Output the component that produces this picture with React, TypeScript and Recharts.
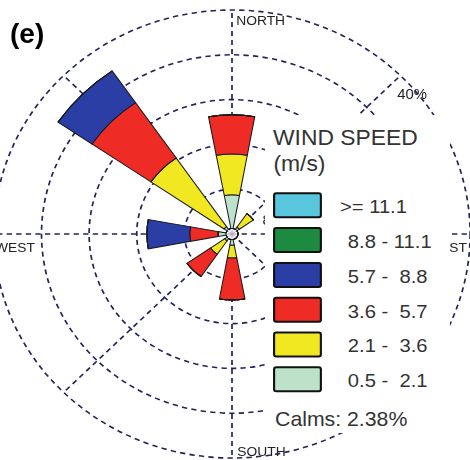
import { RadialBarChart, RadialBar, PolarGrid, PolarAngleAxis, PolarRadiusAxis, Legend } from 'recharts';

// wind directions, clockwise from north
const directions = ['N', 'NNE', 'NE', 'ENE', 'E', 'ESE', 'SE', 'SSE', 'S', 'SSW', 'SW', 'WSW', 'W', 'WNW', 'NW', 'NNW'];

// frequency (%) per speed class
const calmBase = [1, 1, 1, 1, 1, 1, 1, 1, 1, 1, 1, 1, 1, 1, 1, 1];
const speed05to21 = [6.0, 0, 0.5, 0, 0, 0, 0, 0, 1.0, 0, 0.5, 0, 1.3, 0, 0.6, 0];
const speed21to36 = [7.3, 0, 2.9, 0, 0, 0, 0, 0, 2.3, 0, 2.9, 0, 0.1, 0, 14.9, 0];
const speed36to57 = [7.0, 0, 0, 0, 0, 0, 0, 0, 7.5, 0, 4.8, 0, 4.7, 0, 12.0, 0];
const speed57to88 = [0, 0, 0, 0, 0, 0, 0, 0, 0, 0, 0, 0, 7.2, 0, 6.9, 0];
const speed88to111 = [0, 0, 0, 0, 0, 0, 0, 0, 0, 0, 0, 0, 0, 0, 0, 0];
const speedOver111 = [0, 0, 0, 0, 0, 0, 0, 0, 0, 0, 0, 0, 0, 0, 0, 0];

const ringTicks = [8, 16, 24, 32, 40];
const speedKeys = ['s1', 's2', 's3', 's4', 's5', 's6'];
const speedLabels = ['0.5 -  2.1', '2.1 -  3.6', '3.6 -  5.7', '5.7 -  8.8', '8.8 - 11.1', '>= 11.1'];
const speedColors = ['#bde2c9', '#f1e821', '#ee2c25', '#2b3ea6', '#1c8b3f', '#58c6dc'];
const calms = '2.38%';

const rows = directions.map((dir, i) => ({
  dir,
  calm: calmBase[i],
  s1: speed05to21[i],
  s2: speed21to36[i],
  s3: speed36to57[i],
  s4: speed57to88[i],
  s5: speed88to111[i],
  s6: speedOver111[i],
}));

const font = 'Arial, "Liberation Sans", sans-serif';
const compassNames: Record<string, string> = { N: 'NORTH', E: 'EAST', S: 'SOUTH', W: 'WEST' };
const halfBand = 180 / directions.length;

const CompassTick = (props: any) => {
  const { cx, cy, radius, payload } = props;
  const name = compassNames[payload.value];
  if (!name) return null;
  // ticks sit at the band start, the sector centre is half a band further on
  const a = ((payload.coordinate + halfBand) * Math.PI) / 180;
  const x = cx + radius * Math.cos(a);
  const y = cy - radius * Math.sin(a);
  let dx = 4, dy = 15, anchor = 'start';
  if (payload.value === 'S') { dx = 5; dy = -2; }
  if (payload.value === 'W') { dx = 1; dy = 18; }
  if (payload.value === 'E') { dx = -3; dy = 18; anchor = 'end'; }
  return (
    <text x={x + dx} y={y + dy} textAnchor={anchor} fontSize={13} fontFamily={font} fill="#222">
      {name}
    </text>
  );
};

const RingTick = (props: any) => {
  const { x, y, payload } = props;
  return (
    <text x={x - 3} y={y + 23} fontSize={14} fontFamily={font} fill="#222">
      {payload.value}%
    </text>
  );
};

const WindLegend = () => {
  const items = speedLabels.map((label, i) => ({ label, color: speedColors[i] })).reverse();
  return (
    <svg width={174} height={318} style={{ display: 'block' }}>
      <rect x={0} y={0} width={174} height={318} fill="#fff" />
      <text x={7.6} y={30} fontSize={21.5} fontFamily={font} fill="#333">WIND SPEED</text>
      <text x={8} y={56} fontSize={21.5} fontFamily={font} fill="#333">(m/s)</text>
      {items.map((item, i) => {
        const top = 78.3 + i * 34.8;
        return (
          <g key={item.label}>
            <rect x={8.6} y={top} width={44} height={24} rx={2} fill={item.color} stroke="#111" strokeWidth={2} />
            <text
              x={item.label.startsWith('>') ? 70.6 : 78}
              y={top + 20}
              fontSize={19}
              fontFamily={font}
              fill="#333"
              style={{ whiteSpace: 'pre' }}
            >
              {item.label}
            </text>
          </g>
        );
      })}
      <text x={9.5} y={311.5} fontSize={20} fontFamily={font} fill="#333">Calms: {calms}</text>
    </svg>
  );
};

export default function App() {
  return (
    <div style={{ position: 'absolute', left: 0, top: 0, width: 470, height: 460, overflow: 'hidden', background: '#fff' }}>
      <div style={{ width: 470, height: 460, transform: 'scaleX(1.063)', transformOrigin: '232px 234px' }}>
        <RadialBarChart
          width={470}
          height={460}
          data={rows}
          layout="centric"
          cx={232}
          cy={234}
          innerRadius={0}
          outerRadius={224}
          startAngle={78.75}
          endAngle={-281.25}
          barCategoryGap="4%"
          margin={{ top: 0, right: 0, bottom: 0, left: 0 }}
        >
          <PolarGrid
            gridType="circle"
            polarAngles={[0, 45, 90, 135, 180, 225, 270, 315]}
            stroke="#23235e"
            strokeDasharray="5 4"
            strokeWidth={1.6}
          />
          <PolarAngleAxis type="category" dataKey="dir" axisLine={false} tickLine={false} tick={CompassTick} />
          <PolarRadiusAxis
            type="number"
            domain={[0, 40]}
            ticks={ringTicks}
            angle={45}
            axisLine={false}
            tickLine={false}
            tick={RingTick}
          />
          <RadialBar dataKey="calm" stackId="rose" fill="#fff" stroke="none" isAnimationActive={false} />
          {speedKeys.map((key, i) => (
            <RadialBar
              key={key}
              dataKey={key}
              name={speedLabels[i]}
              stackId="rose"
              fill={speedColors[i]}
              stroke="#1a1a1a"
              strokeWidth={1}
              isAnimationActive={false}
            />
          ))}
          <Legend
            content={WindLegend}
            wrapperStyle={{ position: 'absolute', left: 263, top: 115, width: 174, height: 318, margin: 0 }}
          />
        </RadialBarChart>
      </div>
      <div style={{ position: 'absolute', left: 10, top: 20, fontSize: 28, lineHeight: '28px', fontWeight: 'bold', fontFamily: font, color: '#000' }}>
        (e)
      </div>
    </div>
  );
}
